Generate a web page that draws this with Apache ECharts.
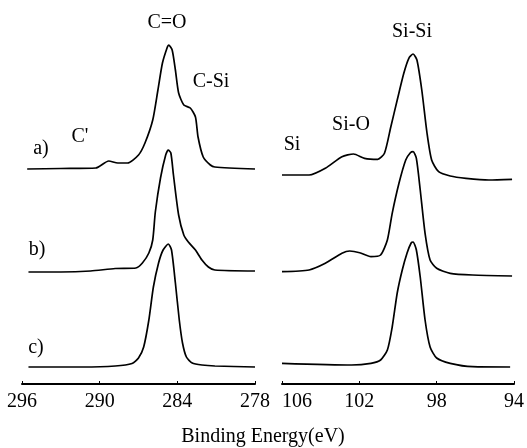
<!DOCTYPE html>
<html>
<head>
<meta charset="utf-8">
<script src="https://cdn.jsdelivr.net/npm/echarts@6/dist/echarts.min.js"></script>
<style>
  html, body { margin: 0; padding: 0; background: #fff; }
  #chart { width: 527px; height: 448px; }
</style>
</head>
<body>
<div id="chart"></div>
<script>
"use strict";

// C 1s spectra (binding energy in eV, intensity above baseline)
var cEnergyA = [295.6, 293.0, 290.3, 289.3, 288.6, 287.85, 287.0, 286.5, 285.9, 285.5, 285.15, 284.77, 284.67, 284.4, 284.15, 283.9, 283.5, 283.0, 282.6, 282.4, 282.0, 281.45, 281.1, 278.0];
var cCountA  = [0, 0.5, 1, 8, 6, 6, 14, 26, 49, 79, 106, 122, 124, 119, 99, 76, 64, 61, 52, 32, 12, 4, 2, 0];
var cEnergyB = [295.5, 293.0, 290.7, 288.8, 287.2, 286.7, 286.2, 285.9, 285.7, 285.3, 284.9, 284.7, 284.5, 284.3, 283.9, 283.5, 283.15, 282.6, 282.1, 281.6, 281.1, 278.0];
var cCountB  = [0, 0, 1, 3.5, 4, 9, 19, 32, 60, 94, 117, 122, 119, 97, 57, 37, 30, 22, 12, 5, 2, 1];
var cEnergyC = [295.5, 291.3, 288.8, 287.5, 287.0, 286.6, 286.2, 285.85, 285.45, 285.1, 284.7, 284.45, 284.15, 283.85, 283.6, 283.3, 282.85, 282.1, 281.1, 278.0];
var cCountC  = [0, 0, 1, 3.5, 9, 20, 47, 80, 104, 117, 123, 117, 84, 47, 24, 10, 4, 2, 1, 0];

// Si 2p spectra
var siEnergyA = [106.0, 104.6, 103.76, 102.9, 102.3, 101.73, 101.05, 100.7, 100.37, 100.04, 99.7, 99.44, 99.22, 99.02, 98.77, 98.5, 98.26, 97.9, 97.3, 96.48, 95.3, 94.1];
var siCountA  = [5, 5, 11.7, 23.3, 26, 21.7, 20.7, 26.7, 53.3, 80, 106.7, 121.7, 126, 120, 90, 47, 20, 8.3, 4, 1.7, 0, 0.7];
var siEnergyB = [106.0, 104.6, 103.76, 102.9, 102.5, 101.98, 101.4, 100.9, 100.55, 100.3, 99.95, 99.6, 99.36, 99.22, 99.05, 98.85, 98.6, 98.34, 98.0, 97.3, 96.14, 94.1];
var siCountB  = [4.3, 6, 12.7, 22.7, 25, 23.3, 19.3, 21, 36, 62.7, 92.7, 116, 123.3, 124.3, 117.7, 86, 42.7, 16, 7.7, 2.7, 1, 0];
var siEnergyC = [106.0, 102.4, 101.4, 100.9, 100.55, 100.3, 100.04, 99.78, 99.53, 99.32, 99.22, 99.05, 98.85, 98.6, 98.34, 98.0, 97.3, 96.14, 94.2];
var siCountC  = [3.7, 2, 3.7, 7, 17, 40, 74, 97, 114, 124, 125, 117, 90, 47, 20, 9, 3.7, 0.3, 0];

// vertical stacking offsets of samples a), b), c)
var cOffsets  = [215, 112, 17];
var siOffsets = [204, 108, 17];

var cTicks  = [296, 290, 284, 278];
var siTicks = [106, 102, 98, 94];

function pairs(xs, ys, off) {
  return xs.map(function (x, i) { return [x, ys[i] + off]; });
}

var font = "'Liberation Serif', 'Times New Roman', serif";

function spectrum(xs, ys, off, idx) {
  return {
    type: 'line',
    xAxisIndex: idx,
    yAxisIndex: idx,
    data: pairs(xs, ys, off),
    smooth: 0.22,
    symbol: 'none',
    silent: true,
    lineStyle: { color: '#000', width: 1.7 }
  };
}

function energyAxis(idx, ticks, maxAlign) {
  return {
    type: 'value',
    gridIndex: idx,
    inverse: true,
    min: Math.min.apply(null, ticks),
    max: Math.max.apply(null, ticks),
    interval: Math.abs(ticks[0] - ticks[1]),
    axisLine: { show: true, lineStyle: { color: '#000', width: 2 } },
    axisTick: { show: true, inside: true, length: 3, lineStyle: { color: '#000', width: 1 } },
    splitLine: { show: false },
    axisLabel: {
      color: '#000', fontFamily: font, fontSize: 20, margin: 8,
      showMinLabel: true, showMaxLabel: true,
      alignMaxLabel: maxAlign
    }
  };
}

function note(text, x, y) {
  return {
    type: 'text', x: x, y: y,
    style: {
      text: text, fill: '#000', font: '20px ' + font,
      textAlign: 'center', textVerticalAlign: 'middle'
    }
  };
}

var chart = echarts.init(document.getElementById('chart'), null, { renderer: 'canvas' });

chart.setOption({
  backgroundColor: '#fff',
  animation: false,
  grid: [
    { left: 22, right: 272, top: 20, bottom: 64 },
    { left: 282, right: 10, top: 20, bottom: 64 }
  ],
  xAxis: [energyAxis(0, cTicks, 'center'), energyAxis(1, siTicks, 'left')],
  yAxis: [
    { type: 'value', gridIndex: 0, min: 0, max: 364, show: false },
    { type: 'value', gridIndex: 1, min: 0, max: 364, show: false }
  ],
  series: [
    spectrum(cEnergyA, cCountA, cOffsets[0], 0),
    spectrum(cEnergyB, cCountB, cOffsets[1], 0),
    spectrum(cEnergyC, cCountC, cOffsets[2], 0),
    spectrum(siEnergyA, siCountA, siOffsets[0], 1),
    spectrum(siEnergyB, siCountB, siOffsets[1], 1),
    spectrum(siEnergyC, siCountC, siOffsets[2], 1)
  ],
  graphic: [
    note('C=O', 167, 23),
    note('C-Si', 211, 82),
    note("C'", 80, 137),
    note('a)', 41, 149),
    note('b)', 37, 250),
    note('c)', 36, 348),
    note('Si-Si', 412, 32),
    note('Si-O', 351, 125),
    note('Si', 292, 145),
    note('Binding Energy(eV)', 263, 437)
  ]
});
</script>
</body>
</html>
